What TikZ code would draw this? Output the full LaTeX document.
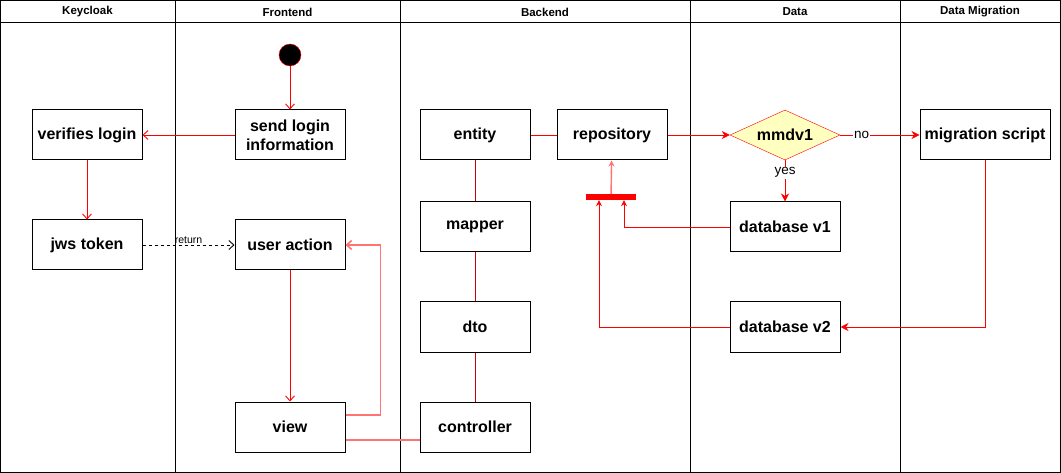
\documentclass[tikz,border=0pt]{standalone}
\usepackage{fontspec}
\setmainfont{Liberation Sans}
\usepackage{tikz}
\usetikzlibrary{arrows.meta,positioning,shapes.geometric}
\definecolor{flowred}{RGB}{255,0,0}
\definecolor{softred}{RGB}{255,115,115}
\definecolor{linkred}{RGB}{200,0,0}
\definecolor{decfill}{RGB}{255,255,192}

\begin{document}
\begin{tikzpicture}[
  x=1pt, y=-1pt,
  box/.style={draw, line width=1pt, minimum width=110pt, minimum height=50pt, inner sep=2pt, align=center,
    font=\fontsize{16}{19}\selectfont\bfseries},
  lane/.style={font=\fontsize{11.5}{13}\selectfont\bfseries},
  arr/.style={-{Straight Barb[length=5pt,width=9pt]}, flowred, line width=0.9pt},
  farr/.style={-{Stealth[length=8pt,width=8pt,inset=2.5pt]}, flowred, line width=0.9pt},
  lbl/.style={fill=white, text=black, inner sep=1pt, font=\fontsize{13.5}{15}\selectfont}
]
\useasboundingbox (0,0) rectangle (1061,473);

% swimlanes
\draw[line width=1pt] (0.5,0.5) rectangle (1060.5,472.5);
\draw[line width=1pt] (0.5,23) -- (1060.5,23);
\foreach \lx in {175,400,690,900}
  \draw[line width=1pt] (\lx,0.5) -- (\lx,472.5);
\node[lane] (hkc) at (87.5,12) {Keycloak};
\node[lane] (hfe) at (287.5,12) {Frontend};
\node[lane] (hbe) at (545,12) {Backend};
\node[lane] (hdata) at (795,12) {Data};
\node[lane] (hmig) at (980,12) {Data Migration};

% keycloak + frontend
\node[circle, draw=flowred, fill=black, minimum size=22pt, inner sep=0pt] (start) at (290,55) {};
\node[box] (verify) at (87,135) {verifies login};
\node[box] (send) at (290,135) {send login\\information};
\node[box] (jws) at (87,245) {jws token};
\node[box] (user) at (290,245) {user action};
\node[box] (view) at (290,427) {view};

% backend
\node[box] (entity) at (475,135) {entity};
\node[box, right=26pt of entity] (repo) {repository};
\node[box] (mapper) at (475,227) {mapper};
\node[box] (dto) at (475,327) {dto};
\node[box] (ctrl) at (475,427) {controller};
\node[fill=flowred, minimum width=50pt, minimum height=6pt, inner sep=0pt] (bar) at (611,197) {};

% data + migration
\node[diamond, draw=flowred, fill=decfill, aspect=2.2, minimum width=110pt, minimum height=50pt, inner sep=0pt,
  font=\fontsize{16}{19}\selectfont\bfseries] (mmdv1) at (785,135) {mmdv1};
\node[box] (db1) at (785,227) {database v1};
\node[box] (db2) at (785,327) {database v2};
\node[box, minimum width=130pt] (migr) at (985,135) {migration script};

\draw[arr] (start) -- (send);
\draw[arr] (send) -- (verify);
\draw[arr] (verify) -- (jws);
\draw[arr, black, dashed] (jws) -- node[above, inner sep=1pt, font=\fontsize{10.5}{12}\selectfont]{return} (user);
\draw[arr] (user) -- (view);
\draw[arr, softred, line width=1.6pt] ([yshift=12pt]view.east) -- ++(35,0) |- (user.east);
\draw[softred, line width=1.6pt] ([yshift=-13pt]view.east) -- ([yshift=-13pt]view.east -| ctrl.west);

\draw[flowred, line width=0.9pt] (entity) -- (repo);
\draw[linkred, line width=1pt] (entity) -- (mapper);
\draw[linkred, line width=1pt] (mapper) -- (dto);
\draw[linkred, line width=1pt] (dto) -- (ctrl);

\draw[farr] (repo) -- (mmdv1);
\draw[farr] (mmdv1) -- node[lbl, pos=0.27]{no} (migr);
\draw[farr] (mmdv1) -- node[lbl, pos=0.3]{yes} (db1);
\draw[farr] (migr.south) |- (db2.east);

\draw[-{Stealth[length=6pt,width=6pt]}, softred, line width=1.4pt] (bar) -- (repo);
\draw[-{Stealth[length=6pt,width=6pt]}, flowred, line width=0.9pt] (db1.west) -| ([xshift=13pt]bar.south);
\draw[-{Stealth[length=6pt,width=6pt]}, flowred, line width=0.9pt] (db2.west) -| ([xshift=-12pt]bar.south);
\end{tikzpicture}
\end{document}
